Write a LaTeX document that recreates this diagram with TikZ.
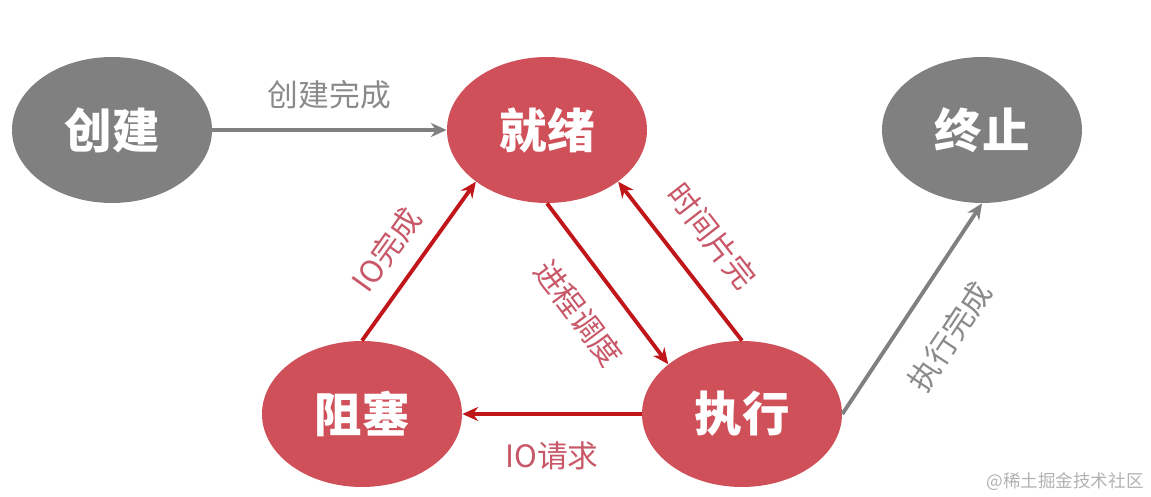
\documentclass[tikz,border=0pt]{standalone}
\usepackage{fontspec}
\newfontfamily\cjk{Noto Sans CJK SC}
\usepackage{xcolor}
\usepackage{tikz}
\usetikzlibrary{shapes.geometric,arrows.meta,positioning}

\definecolor{stred}{HTML}{D0505A}
\definecolor{stgray}{HTML}{808080}
\definecolor{arred}{HTML}{C0161A}
\definecolor{lblred}{HTML}{C85868}
\definecolor{lblgray}{HTML}{8A8A8A}

\begin{document}
\begin{tikzpicture}[
    proc/.style={ellipse, minimum width=4cm, minimum height=2.92cm, inner sep=0pt,
                 font=\cjk\bfseries\fontsize{27}{30}\selectfont, text=white},
    act/.style={proc, fill=stred},
    idle/.style={proc, fill=stgray},
    arr/.style={-{Stealth[length=9pt,width=8pt]}, line width=2.2pt, arred},
    garr/.style={arr, stgray},
    lbl/.style={font=\cjk\fontsize{17.5}{20}\selectfont, text=lblred, inner sep=0pt},
    glbl/.style={lbl, text=lblgray},
  ]
    \useasboundingbox (0,0) rectangle (23.02,-9.94);

    \node[idle] (create) at (2.24,-2.60)  {创建};
    \node[act]  (ready)  at (10.94,-2.60) {就绪};
    \node[idle] (stop)   at (19.64,-2.60) {终止};
    \node[act]  (block)  at (7.24,-8.28)  {阻塞};
    \node[act]  (run)    at (14.84,-8.28) {执行};

    % entering and leaving
    \draw[garr] (create.east) -- node[glbl, above=0.38cm] {创建完成} (ready.west);
    \draw[garr] (run.east) -- node[glbl, pos=0.49, sloped, below=0.6cm] {执行完成} (stop.south);

    % the cycle
    \draw[arr] (block.north) -- node[lbl, pos=0.45, sloped, above=0.33cm] {IO完成} (ready.216);
    \draw[arr] (ready.south) -- node[lbl, pos=0.53, sloped, below=0.49cm] {进程调度} (run.146);
    \draw[arr] (run.north) -- node[lbl, pos=0.5, sloped, above=0.49cm] {时间片完} (ready.324);
    \draw[arr] (run.west) -- node[lbl, below=0.52cm] {IO请求} (block.east);

    % watermark
    \node[font=\cjk\fontsize{10}{12}\selectfont, text=black!30] (wm) at (21.30,-9.64)
      {@稀土掘金技术社区};
  \end{tikzpicture}
\end{document}
